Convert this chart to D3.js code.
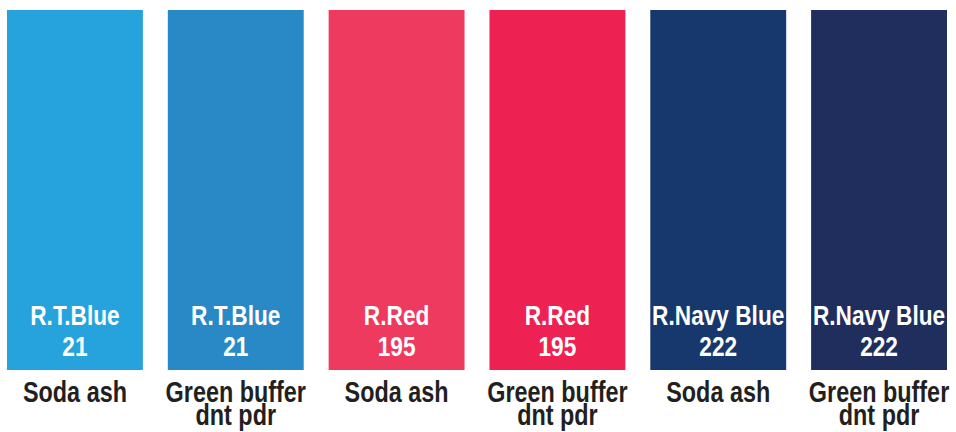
<!DOCTYPE html>
<html>
<head>
<meta charset="utf-8">
<script src="https://cdn.jsdelivr.net/npm/d3@7"></script>
<style>
  body { margin: 0; background: #fff; }
</style>
</head>
<body>
<script>
// shade names, shade numbers and process for each swatch
var shades = ["R.T.Blue", "R.T.Blue", "R.Red", "R.Red", "R.Navy Blue", "R.Navy Blue"];
var codes = ["21", "21", "195", "195", "222", "222"];
var processes = [["Soda ash"], ["Green buffer", "dnt pdr"], ["Soda ash"], ["Green buffer", "dnt pdr"], ["Soda ash"], ["Green buffer", "dnt pdr"]];
var swatchColors = ["#26a3dc", "#2889c6", "#ee3a5e", "#ed2152", "#17386c", "#1f2e5c"];

var w = 956;
var h = 432;
var swTop = 10, swBottom = 370;

var svg = d3.select("body")
    .append("svg")
    .attr("width", w)
    .attr("height", h);

var ids = d3.range(shades.length);

var xScale = d3.scaleBand()
    .domain(ids)
    .range([7, 947])
    .paddingInner(0.155)
    .paddingOuter(0);

var color = d3.scaleOrdinal()
    .domain(ids)
    .range(swatchColors);

svg.selectAll("rect")
    .data(ids)
    .enter()
    .append("rect")
    .attr("x", function (d) { return xScale(d); })
    .attr("y", swTop)
    .attr("width", xScale.bandwidth())
    .attr("height", swBottom - swTop)
    .attr("fill", function (d) { return color(d); });

// white shade label inside swatch
var inner = svg.selectAll("g.inner")
    .data(ids)
    .enter()
    .append("g")
    .attr("class", "inner")
    .attr("transform", function (d) {
        return "translate(" + (xScale(d) + xScale.bandwidth() / 2) + ",0) scale(0.84,1)";
    });

inner.append("text")
    .attr("y", 325)
    .text(function (d) { return shades[d]; });
inner.append("text")
    .attr("y", 356)
    .text(function (d) { return codes[d]; });
inner.selectAll("text")
    .attr("text-anchor", "middle")
    .attr("font-family", "Liberation Sans, Arial, sans-serif")
    .attr("font-weight", "bold")
    .attr("font-size", "27px")
    .attr("fill", "#ffffff");

// process label under swatch
var under = svg.selectAll("g.under")
    .data(ids)
    .enter()
    .append("g")
    .attr("class", "under")
    .attr("transform", function (d) {
        return "translate(" + (xScale(d) + xScale.bandwidth() / 2) + ",0) scale(0.78,1)";
    });

under.selectAll("text")
    .data(function (d) { return processes[d]; })
    .enter()
    .append("text")
    .attr("y", function (d, i) { return 402 + i * 23; })
    .attr("text-anchor", "middle")
    .attr("font-family", "Liberation Sans, Arial, sans-serif")
    .attr("font-weight", "bold")
    .attr("font-size", "30px")
    .attr("fill", "#231f20")
    .text(function (d) { return d; });
</script>
</body>
</html>
